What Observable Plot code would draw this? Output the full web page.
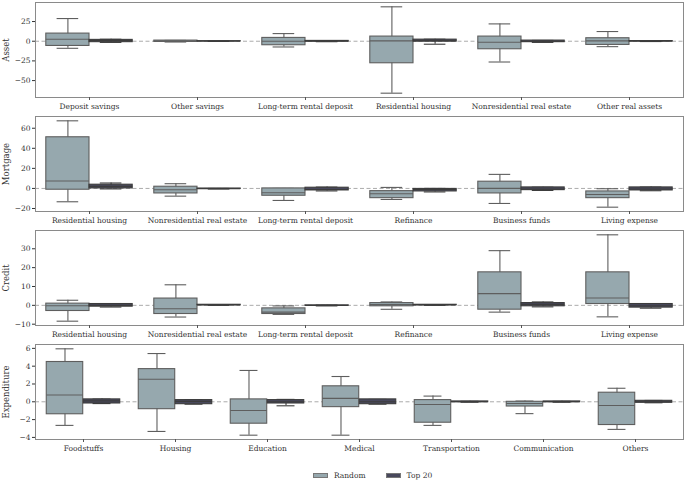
<!DOCTYPE html>
<html>
<head>
<meta charset="utf-8">
<script src="https://cdn.jsdelivr.net/npm/d3@7"></script>
<script src="https://cdn.jsdelivr.net/npm/@observablehq/plot@0.6"></script>
<style>
  body { margin: 0; background: #fff; font-family: "DejaVu Serif", serif; }
  #chart { width: 685px; }
  #chart svg { display: block; }
  .legend { display: flex; align-items: center; font-size: 7.5px; color: #333; padding-left: 313px; margin-top: 13px; height: 12px; }
  .sw { display: inline-block; width: 15px; height: 5px; margin-right: 6px; border: 1px solid #777; box-sizing: border-box; }
  .item { display: flex; align-items: center; margin-right: 20px; }
</style>
</head>
<body>
<div id="chart"></div>
<script>
// ---- data: [lower whisker, Q1, median, Q3, upper whisker]
const assetCats = ["Deposit savings", "Other savings", "Long-term rental deposit", "Residential housing", "Nonresidential real estate", "Other real assets"];
const assetRandom = [
  [-9, -6, 2.5, 9.7, 28.8],
  [-1, -0.8, 0, 0.8, 1],
  [-7.3, -5.1, 0, 4.2, 9.7],
  [-66, -28, 0.5, 5.9, 43.7],
  [-26.4, -10.2, -1.3, 5.9, 22],
  [-6.9, -4.7, 0.4, 3.8, 12.3]
];
const assetTop20 = [
  [-1.5, -1.2, 1, 1.7, 2.5],
  [-0.2, -0.1, 0, 0.1, 0.2],
  [-0.6, -0.4, 0, 0.4, 0.6],
  [-3.8, -0.4, 0.5, 2, 2.5],
  [-1.5, -1.2, 0, 0.8, 1],
  [-0.4, -0.2, 0, 0.2, 0.4]
];

const mortCats = ["Residential housing", "Nonresidential real estate", "Long-term rental deposit", "Refinance", "Business funds", "Living expense"];
const mortRandom = [
  [-13.3, -1.3, 7.4, 51, 67.4],
  [-7.7, -5, -1.3, 1.7, 4.7],
  [-12, -7.3, -4.3, 0, 0],
  [-11, -9.7, -5.3, -2.7, 1],
  [-15, -5, 0, 6.7, 14],
  [-18.7, -9.7, -6, -3, -0.3]
];
const mortTop20 = [
  [-0.5, 0, 2, 3.7, 5.4],
  [-0.6, -0.5, -0.3, -0.1, 0],
  [-2.5, -2, -1, 0.7, 1.3],
  [-3.5, -3, -1, -0.5, 0],
  [-2, -1.7, -0.5, 1, 1.2],
  [-2.3, -2, -0.5, 1, 1.3]
];

const credCats = ["Residential housing", "Nonresidential real estate", "Long-term rental deposit", "Refinance", "Business funds", "Living expense"];
const credRandom = [
  [-8.4, -3, -0.2, 0.9, 2.7],
  [-6.2, -4.6, -1.8, 3.6, 10.9],
  [-4.8, -4.6, -3.6, -1.6, -0.3],
  [-2.1, -0.5, 0.4, 1.2, 1.8],
  [-3.6, -2.3, 6.2, 17.5, 29],
  [-6.1, 0.7, 3.9, 17.5, 37.4]
];
const credTop20 = [
  [-0.9, -0.7, 0, 0.7, 0.9],
  [0, 0.1, 0.2, 0.3, 0.4],
  [-0.3, -0.2, -0.1, 0, 0.1],
  [0, 0.1, 0.2, 0.3, 0.4],
  [-0.8, -0.5, 0.5, 1.2, 1.8],
  [-1.5, -1.2, -0.2, 0.7, 0.9]
];

const expCats = ["Foodstuffs", "Housing", "Education", "Medical", "Transportation", "Communication", "Others"];
const expRandom = [
  [-2.65, -1.4, 0.76, 4.47, 5.95],
  [-3.33, -0.83, 2.54, 3.67, 5.42],
  [-3.75, -2.46, -0.98, 0.27, 3.52],
  [-3.75, -0.6, 0.38, 1.74, 2.84],
  [-2.65, -2.35, -0.3, 0.19, 0.64],
  [-1.33, -0.53, -0.19, 0, 0.08],
  [-3.1, -2.61, -0.42, 1.02, 1.52]
];
const expTop20 = [
  [-0.2, -0.19, 0.1, 0.27, 0.3],
  [-0.27, -0.27, 0.05, 0.19, 0.2],
  [-0.45, -0.19, 0, 0.19, 0.27],
  [-0.27, -0.27, 0, 0.27, 0.27],
  [-0.05, -0.04, 0, 0.04, 0.05],
  [-0.05, -0.04, 0, 0.04, 0.05],
  [-0.11, -0.11, 0, 0.11, 0.15]
];

const groups = ["Random", "Top 20"];
const panelLabels = ["Asset", "Mortgage", "Credit", "Expenditure"];
const yTicks = [[-50, -25, 0, 25], [-20, 0, 20, 40, 60], [-10, 0, 10, 20, 30], [-4, -2, 0, 2, 4, 6]];

// ---- style
const W = 685, ML = 35, MR = 2, MT = 2, MB = 17, H = 114;
const fills = {"Random": "#96a8ae", "Top 20": "#48485c"};
const edge = {"Random": "#5e5e5e", "Top 20": "#3c3c3c"};

function rowsOf(cats, vals) {
  return cats.map((c, i) => ({cat: c, lo: vals[i][0], q1: vals[i][1], med: vals[i][2], q3: vals[i][3], hi: vals[i][4]}));
}

function panel(cats, rnd, top, label, ticks) {
  const bw = (W - ML - MR) / cats.length;
  const data = {"Random": rowsOf(cats, rnd), "Top 20": rowsOf(cats, top)};
  const all = [...rnd, ...top].flat();
  const lo = d3.min(all), hi = d3.max(all), pad = (hi - lo) * 0.05;
  const marks = [Plot.ruleY([0], {stroke: "#ababab", strokeDasharray: "4,2.5", strokeWidth: 1})];
  groups.forEach((g, gi) => {
    const off = gi === 0 ? -0.2 * bw : 0.2 * bw;
    const boxIn = gi === 0 ? [0.1 * bw, 0.5 * bw] : [0.5 * bw, 0.1 * bw];
    const capIn = gi === 0 ? [0.2 * bw, 0.6 * bw] : [0.6 * bw, 0.2 * bw];
    const rows = data[g];
    marks.push(
      Plot.ruleX(rows, {x: "cat", y1: "lo", y2: "hi", dx: off, stroke: edge[g], strokeWidth: 1.1}),
      Plot.tickY(rows, {x: "cat", y: "lo", insetLeft: capIn[0], insetRight: capIn[1], stroke: edge[g], strokeWidth: 1.1}),
      Plot.tickY(rows, {x: "cat", y: "hi", insetLeft: capIn[0], insetRight: capIn[1], stroke: edge[g], strokeWidth: 1.1}),
      Plot.barY(rows, {x: "cat", y1: "q1", y2: "q3", insetLeft: boxIn[0], insetRight: boxIn[1], fill: fills[g], stroke: edge[g], strokeWidth: 1.1}),
      Plot.tickY(rows, {x: "cat", y: "med", insetLeft: boxIn[0], insetRight: boxIn[1], stroke: edge[g], strokeWidth: 1.1})
    );
  });
  marks.push(
    Plot.frame({stroke: "#8a8a8a", strokeWidth: 1}),
    Plot.axisX({tickSize: 3, tickPadding: 3, label: null, fontSize: 7.5, stroke: "#555"}),
    Plot.axisY({ticks: ticks, tickSize: 3, tickPadding: 2, label: null, fontSize: 7.5}),
    Plot.text([label], {frameAnchor: "left", textAnchor: "middle", rotate: -90, dx: -29, fontSize: 8.5, fill: "#333"})
  );
  return Plot.plot({
    width: W, height: H,
    marginLeft: ML, marginRight: MR, marginTop: MT, marginBottom: MB,
    style: {fontFamily: "DejaVu Serif", fontSize: "7.5px", color: "#333", background: "#fff"},
    x: {type: "band", domain: cats, padding: 0},
    y: {domain: [lo - pad, hi + pad]},
    marks
  });
}

const chart = document.getElementById("chart");
chart.append(panel(assetCats, assetRandom, assetTop20, panelLabels[0], yTicks[0]));
chart.append(panel(mortCats, mortRandom, mortTop20, panelLabels[1], yTicks[1]));
chart.append(panel(credCats, credRandom, credTop20, panelLabels[2], yTicks[2]));
chart.append(panel(expCats, expRandom, expTop20, panelLabels[3], yTicks[3]));

const legend = document.createElement("div");
legend.className = "legend";
groups.forEach(g => {
  const it = document.createElement("span");
  it.className = "item";
  const sw = document.createElement("span");
  sw.className = "sw";
  sw.style.background = fills[g];
  it.append(sw, document.createTextNode(g));
  legend.append(it);
});
chart.append(legend);
</script>
</body>
</html>
